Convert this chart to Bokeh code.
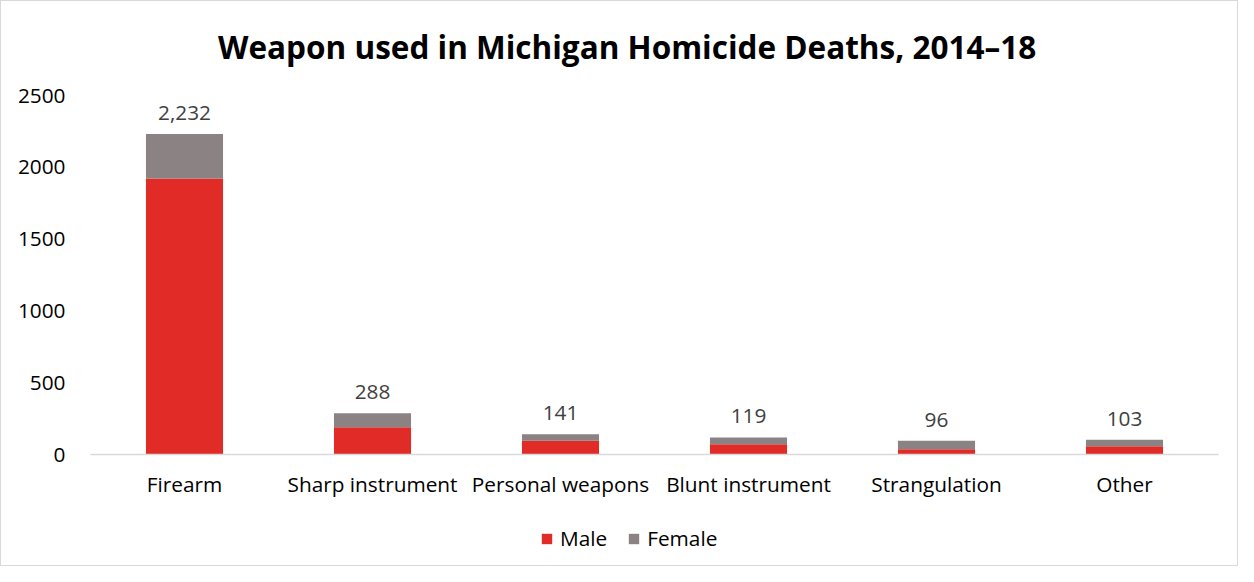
from bokeh.plotting import figure
from bokeh.layouts import column
from bokeh.models import ColumnDataSource, FixedTicker, Legend, LegendItem, Range1d, FactorRange
from bokeh.embed import file_html
from bokeh.resources import INLINE
from bokeh.core.properties import value

title = "Weapon used in Michigan Homicide Deaths, 2014\u201318"
categories = ["Firearm", "Sharp instrument", "Personal weapons", "Blunt instrument", "Strangulation", "Other"]
male = [1922, 190, 95, 72, 37, 58]
totals = [2232, 288, 141, 119, 96, 103]
female = [t - m for t, m in zip(totals, male)]
labels = [f"{t:,}" for t in totals]
series = ["Male", "Female"]
colors = ["#E02B27", "#8B8283"]

FONT = "Open Sans"
LBL = "20.8px"
W = 1236


def bare(fig):
    fig.axis.visible = False
    fig.grid.grid_line_color = None
    fig.outline_line_color = None
    return fig


# title strip
p0 = bare(figure(width=W, height=80, output_backend="svg", toolbar_location=None,
                 x_range=Range1d(0, W), y_range=Range1d(0, 80),
                 min_border_left=0, min_border_right=0, min_border_top=0, min_border_bottom=0))
p0.text(x=[588], y=[35], text=[title], text_align="center", text_baseline="middle",
        text_font=value(FONT), text_font_size="31.5px", text_font_style="bold", text_color="#000000")

# main chart
src = ColumnDataSource(dict(cat=categories, male=male, female=female, total=totals, label=labels))
p = figure(x_range=FactorRange(*categories, range_padding=0), y_range=Range1d(0, 2500),
           width=W, height=420, output_backend="svg", toolbar_location=None,
           min_border_left=89, min_border_right=19, min_border_top=14, min_border_bottom=47)

r = p.vbar_stack(["male", "female"], x="cat", width=0.41, source=src,
                 color=colors, line_color=None)

p.text(x="cat", y="total", text="label", source=src, text_align="center", text_baseline="bottom",
       y_offset=-14, text_font=value(FONT), text_font_size=LBL, text_color="#404040")

p.yaxis.ticker = FixedTicker(ticks=[0, 500, 1000, 1500, 2000, 2500])
p.yaxis.axis_line_color = None
p.yaxis.major_tick_line_color = None
p.yaxis.major_tick_out = 0
p.yaxis.minor_tick_line_color = None
p.yaxis.major_label_text_font = FONT
p.yaxis.major_label_text_font_size = LBL
p.yaxis.major_label_text_color = "#000000"
p.yaxis.major_label_standoff = 25

p.xaxis.axis_line_color = "#d9d9d9"
p.xaxis.axis_line_width = 1.5
p.xaxis.major_tick_line_color = None
p.xaxis.major_tick_out = 0
p.xaxis.minor_tick_line_color = None
p.xaxis.major_label_text_font = FONT
p.xaxis.major_label_text_font_size = LBL
p.xaxis.major_label_text_color = "#000000"
p.xaxis.major_label_standoff = 15

p.xgrid.grid_line_color = None
p.ygrid.grid_line_color = None
p.outline_line_color = None

# legend strip below the chart
p2 = bare(figure(width=W, height=64, output_backend="svg", toolbar_location=None,
                 x_range=Range1d(0, 1), y_range=Range1d(0, 1),
                 min_border_left=0, min_border_right=0, min_border_top=0, min_border_bottom=0))
dummy = ColumnDataSource(dict(x=[-5.0], top=[-5.0]))
lr = [p2.vbar(x="x", top="top", bottom=-6.0, width=0.1, source=dummy, color=c, line_color=None)
      for c in colors]
legend = Legend(items=[LegendItem(label=s, renderers=[g]) for s, g in zip(series, lr)],
                orientation="horizontal", location=(450, 13),
                label_text_font=FONT, label_text_font_size=LBL, label_text_color="#000000",
                glyph_width=13, glyph_height=13, spacing=20, label_standoff=7,
                border_line_color=None, background_fill_alpha=0, margin=0, padding=4)
p2.add_layout(legend, "center")

layout = column(p0, p, p2, spacing=0)
layout.styles = {"border": "1px solid #d9d9d9"}

open("out.html", "w").write(file_html(layout, INLINE))
